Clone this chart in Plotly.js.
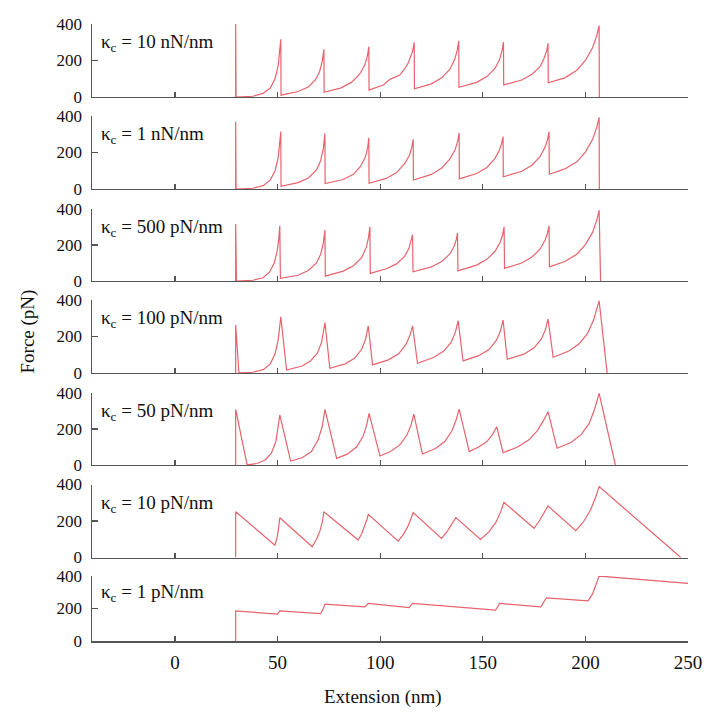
<!DOCTYPE html>
<html>
<head>
<meta charset="utf-8">
<script src="https://cdn.plot.ly/plotly-3.0.1.min.js"></script>
<style>html,body{margin:0;padding:0;background:#fff;}#chart{width:714px;height:714px;}</style>
</head>
<body>
<div id="chart"></div>
<script>
// Panel labels (spring constants)
const panelLabels = ["10 nN/nm", "1 nN/nm", "500 pN/nm", "100 pN/nm", "50 pN/nm", "10 pN/nm", "1 pN/nm"];
const xTickVals = [0, 50, 100, 150, 200, 250];
const yTickVals = [0, 200, 400];

// Panel 1: kc = 10 nN/nm
const ext1 = [29.6,29.6,29.8,38,43,46.5,48.8,50.3,51.1,51.6,51.7,60,65,68.5,70.5,71.8,72.6,72.7,81,86,90,92.5,93.8,94.5,94.6,101.5,105,109.6,112,113.6,115.8,116.6,116.7,125,130,134,136.3,137.6,138.3,138.4,147,152,156,158.2,159.4,160.1,160.2,169,174,178,180,181.2,181.8,181.9,190,196,200,203.5,205.5,206.7,206.8];
const force1 = [0,400,0,4,20,50,100,170,240,316,10,30,55,95,140,195,261,26,50,80,125,175,225,276,38,66,98,120,155,185,250,300,45,72,105,152,205,258,308,53,80,112,158,205,255,301,66,93,125,168,215,255,294,78,105,148,200,270,335,391,0];

// Panel 2: kc = 1 nN/nm
const ext2 = [29.6,29.6,29.8,38,43,46.5,48.8,50.3,51.1,51.6,51.7,60,65,69,71,72.3,73.1,73.2,82,87,90.5,92.8,93.9,94.5,94.6,103,108,112,114.3,115.4,116.1,116.2,125,130,134,136.5,137.8,138.5,138.6,147,152,155.8,158,159.2,159.9,160.0,169,174,178,180.3,181.6,182.3,182.4,190,196,200,203.5,205.5,206.7,206.8];
const force2 = [0,369,0,4,18,50,100,170,240,314,15,35,60,105,155,220,305,30,52,80,125,175,225,281,31,58,90,140,185,228,272,49,80,115,165,215,262,308,55,85,118,165,210,250,287,67,97,130,178,228,272,314,81,110,150,202,272,336,393,0];

// Panel 3: kc = 500 pN/nm
const ext3 = [29.6,29.6,30.0,38,43,46.2,48.4,49.9,50.6,51.1,51.4,60,65,69,71,72.3,73.1,73.3,82,87,91,93.2,94.3,95,95.2,103,108,112,114,115.1,115.8,116,125,130,134,136,137.1,137.7,137.9,147,152,156,158.5,159.7,160.4,160.6,169,174,178,180.4,181.6,182.3,182.5,190,196,200,203.5,205.5,206.7,207.4];
const force3 = [0,316,0,4,18,50,100,170,235,307,15,32,58,100,148,210,283,27,55,85,130,185,240,301,42,68,95,138,180,220,257,51,78,108,150,192,230,267,56,88,120,165,215,258,301,70,100,133,178,228,268,307,78,108,150,202,270,335,393,0];

// Panel 4: kc = 100 pN/nm
const ext4 = [29.6,29.6,31.2,38,43,46.5,48.8,50.3,51.6,54.4,62,66,69.5,71.5,73.1,75.5,83,87.5,91,92.9,94.2,96.3,104,109,112.5,114.5,115.8,118.2,126,131,134.7,136.7,138,140.4,148,153,156.6,158.6,159.9,161.9,170,175,178.5,180.5,181.8,184.3,192,197,201,204,206.7,210.6];
const force4 = [0,263,0,4,18,50,105,180,308,16,38,65,110,170,276,26,50,80,130,185,258,44,72,105,155,205,258,53,85,120,170,225,287,66,95,128,178,230,290,75,103,138,185,235,296,86,120,160,215,290,395,0];

// Panel 5: kc = 50 pN/nm
const ext5 = [29.6,29.6,35.2,40,44,47,49.2,51.1,56.4,62,66.5,69.8,71.8,73.1,78.8,84,88.5,91.7,93.4,94.6,99.9,105,109.5,113,115,116.4,120.6,127,131.5,135,137,138.5,143.4,148,152,154.8,156.8,159.9,167,172.5,176.5,179.5,181.8,186.2,193,198,201.8,204.5,206.7,214.6];
const force5 = [0,309,0,8,28,65,130,278,22,40,75,140,215,309,37,60,100,160,220,287,50,75,110,165,220,282,61,92,130,190,250,311,74,100,130,170,213,68,100,140,190,245,296,93,125,170,230,310,398,0];

// Panel 6: kc = 10 pN/nm
const ext6 = [29.6,29.6,48.7,49.8,50.5,51.1,66.9,69,70.8,71.9,72.6,89.3,91,92.6,93.6,94.2,108.8,111.5,113.7,115.1,116.1,129.9,132.5,134.7,136,136.9,148.9,153,156.5,158.7,160.3,175,177.5,179.7,181.8,195.3,199,202.5,205,206.7,246.5];
const force6 = [0,251,68,110,160,218,59,100,150,200,251,96,130,175,210,237,90,130,175,215,246,105,140,180,205,219,99,140,195,250,303,160,200,240,283,147,195,260,330,389,0];

// Panel 7: kc = 1 pN/nm
const ext7 = [29.6,29.6,50,51.1,71,72.2,73.1,92.5,94.2,114.1,115.8,156.2,158.3,178.3,181,201.3,203.5,205.5,206.7,250];
const force7 = [0,186,165,186,169,195,227,210,231,206,231,190,231,210,266,247,290,360,400,355];

const exts = [ext1, ext2, ext3, ext4, ext5, ext6, ext7];
const forces = [force1, force2, force3, force4, force5, force6, force7];

// Panel vertical domains (paper fractions)
const domains = [[0.8817,1.0],[0.7326,0.8509],[0.5835,0.7002],[0.4344,0.5527],[0.2853,0.4019],[0.1353,0.2536],[0.0,0.1053]];

const lineColor = '#e6636d';
const axColor = '#555555';
const fontFam = '"Liberation Serif", "Times New Roman", serif';
const fs = 19;

const traces = [];
const layout = {
  width: 714, height: 714,
  margin: {l: 92, r: 26, t: 24, b: 73},
  paper_bgcolor: '#ffffff', plot_bgcolor: '#ffffff',
  showlegend: false,
  font: {family: fontFam, size: fs, color: '#111'},
  annotations: []
};

for (let i = 0; i < 7; i++) {
  const n = i + 1;
  const xa = n === 1 ? 'x' : 'x' + n;
  const ya = n === 1 ? 'y' : 'y' + n;
  traces.push({
    x: exts[i], y: forces[i], type: 'scatter', mode: 'lines',
    xaxis: xa, yaxis: ya,
    line: {color: lineColor, width: 1.2},
    hoverinfo: 'skip'
  });
  const xKey = n === 1 ? 'xaxis' : 'xaxis' + n;
  const yKey = n === 1 ? 'yaxis' : 'yaxis' + n;
  layout[xKey] = {
    range: [-40.4, 250], anchor: ya,
    tickvals: xTickVals, ticktext: xTickVals.map(String),
    showticklabels: n === 7,
    ticks: 'inside', ticklen: 5, tickwidth: 1.2, tickcolor: axColor,
    showline: true, linecolor: axColor, linewidth: 1.5,
    showgrid: false, zeroline: false,
    ticklabelstandoff: 4,
    tickfont: {family: fontFam, size: fs, color: '#111'}
  };
  if (n !== 1) layout[xKey].matches = 'x';
  layout[yKey] = {
    domain: domains[i], range: [0, 400], anchor: xa,
    tickvals: yTickVals, ticktext: yTickVals.map(String),
    ticks: 'inside', ticklen: 6, tickwidth: 1.2, tickcolor: axColor,
    showline: true, linecolor: axColor, linewidth: 1.5,
    showgrid: false, zeroline: false,
    ticklabelstandoff: 5,
    tickfont: {family: fontFam, size: 17, color: '#111'}
  };
  layout.annotations.push({
    xref: xa + ' domain', yref: ya,
    x: 0.012, y: 295, xanchor: 'left', yanchor: 'middle',
    text: 'κ<sub>c</sub> = ' + panelLabels[i],
    showarrow: false,
    font: {family: fontFam, size: fs, color: '#111'}
  });
}

layout.annotations.push({
  xref: 'paper', yref: 'paper', x: 0.488, y: -0.09,
  xanchor: 'center', yanchor: 'middle',
  text: 'Extension (nm)', showarrow: false,
  font: {family: fontFam, size: fs, color: '#111'}
});
layout.annotations.push({
  xref: 'paper', yref: 'paper', x: -0.107, y: 0.502,
  xanchor: 'center', yanchor: 'middle', textangle: -90,
  text: 'Force (pN)', showarrow: false,
  font: {family: fontFam, size: fs, color: '#111'}
});

Plotly.newPlot('chart', traces, layout, {displayModeBar: false, staticPlot: true});
</script>
</body>
</html>
